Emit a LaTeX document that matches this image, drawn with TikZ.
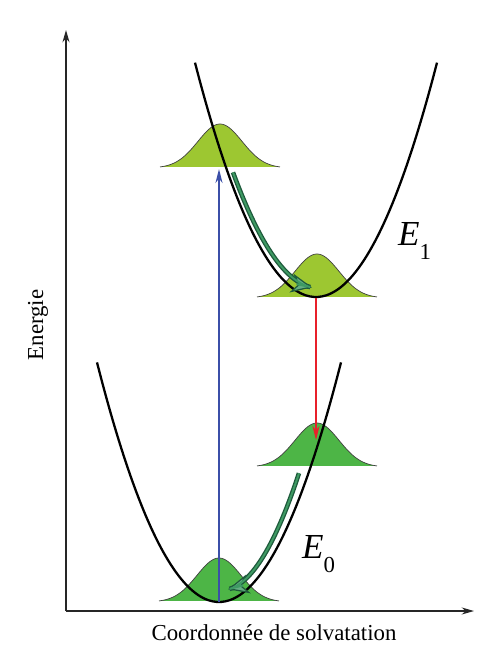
\documentclass[tikz,border=0pt]{standalone}
\usepackage{fontspec}
\setmainfont{Liberation Serif}
\usetikzlibrary{arrows.meta}

\definecolor{upgreen}{HTML}{9DC731}
\definecolor{lowgreen}{HTML}{4DB546}
\definecolor{arrowgreen}{HTML}{1E5A3C}
\definecolor{fillgreen}{HTML}{3E9A63}
\definecolor{absblue}{HTML}{3B4FA8}
\definecolor{emred}{HTML}{E8202A}

\newcommand{\elevel}[1]{{\fontsize{20}{24}\selectfont\textit{E}\raisebox{-0.4em}{\fontsize{13}{15}\selectfont #1}}}

\begin{document}
\begin{tikzpicture}[x=0.02cm, y=-0.02cm,
   axis/.style={line width=0.9pt, black!85, -{Stealth[length=7pt,width=4pt]}},
   well/.style={line width=1.3pt, black},
   gauss/.style={draw=black!75, line width=0.4pt},
   transition/.style={line width=0.8pt, -{Stealth[length=8pt,width=4pt]}},
   relax/.style={draw=fillgreen, line width=1.1pt, shorten >=9pt,
      preaction={draw=arrowgreen, line width=2.6pt, shorten >=0pt,
         -{Stealth[length=12pt,width=11pt,inset=4pt,fill=fillgreen!80!white,line width=0.7pt]}}},
   lbl/.style={font=\fontsize{13}{15}\selectfont}]
\useasboundingbox (0,0) rectangle (500,667);

% axes
\coordinate (origin) at (66,611);
\coordinate (ytip) at (66,30);
\coordinate (xtip) at (474,611);
\draw[axis] (origin) -- (ytip);
\draw[axis] (origin) -- (xtip);
\node[lbl] (xlabel) at (274,633) {Coordonnée de solvatation};
\node[lbl, rotate=90] (ylabel) at (38,325) {Energie};

% gaussian packets
\foreach \cx/\base/\col in {220/168/upgreen, 317/298/upgreen, 317/467/lowgreen, 219/602/lowgreen}
   \draw[gauss, fill=\col] plot[domain=\cx-60:\cx+60, samples=60, smooth]
      (\x, {\base-44*exp(-((\x-\cx)/22)^2/2)});

% potential wells
\draw[well] plot[domain=195:437, samples=60, smooth] (\x, {297-0.016*(\x-316)^2});
\draw[well] plot[domain=97:341, samples=60, smooth] (\x, {602-0.0161*(\x-219)^2});
\node (E1) [anchor=base west] at (392,245) {\elevel{1}};
\node (E0) [anchor=base west] at (296,558) {\elevel{0}};

% vertical transitions
\coordinate (g0) at (219,602);
\coordinate (g0up) at (219,169);
\coordinate (g1) at (316,298);
\coordinate (g1down) at (316,440);
\draw[transition, absblue] (g0) -- (g0up);
\draw[transition, emred] (g1) -- (g1down);

% solvent relaxation
\draw[relax] plot[domain=0:1, samples=40, smooth] ({233+79*\x}, {288-0.016*(233+79*\x-318)^2});
\draw[relax] plot[domain=0:1, samples=40, smooth] ({299-71*\x}, {590-0.0197*(299-71*\x-222)^2});
\end{tikzpicture}
\end{document}
